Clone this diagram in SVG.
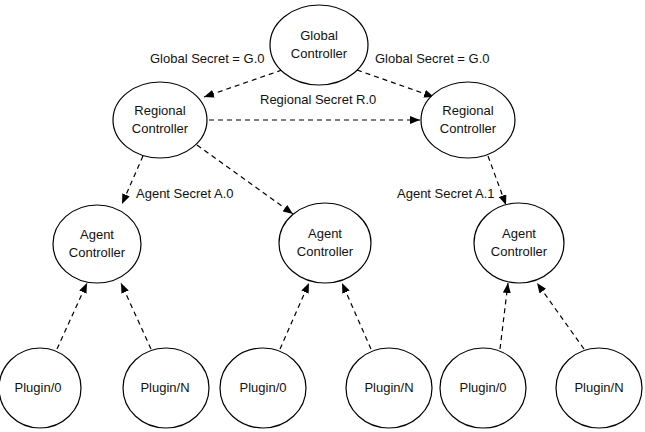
<svg xmlns="http://www.w3.org/2000/svg" width="645" height="432" viewBox="0 0 645 432">
<style>
.n{fill:#fff;stroke:#000;stroke-width:1.2}
.t{font-family:"Liberation Sans",Arial,Helvetica,sans-serif;font-size:13px;fill:#111;text-anchor:middle}
.l{font-family:"Liberation Sans",Arial,Helvetica,sans-serif;font-size:13px;fill:#111}
.c{fill:none;stroke:#000;stroke-width:1.2;stroke-dasharray:5 4;marker-end:url(#ah)}
</style>
<defs>
<marker id="ah" viewBox="0 0 10 8" refX="10" refY="4" markerWidth="10" markerHeight="8" markerUnits="userSpaceOnUse" orient="auto">
<path d="M0,0 L10,4 L0,8 Z" fill="#000"/>
</marker>
</defs>
<rect width="645" height="432" fill="#fff"/>
<g id="connectors">
<line class="c" x1="282" y1="70" x2="204" y2="97"/>
<line class="c" x1="357" y1="70" x2="434" y2="97"/>
<line class="c" x1="209" y1="120" x2="420" y2="120"/>
<line class="c" x1="143" y1="156" x2="122" y2="204"/>
<line class="c" x1="197" y1="145" x2="293" y2="214"/>
<line class="c" x1="488" y1="156" x2="506" y2="205"/>
<line class="c" x1="57" y1="349" x2="87" y2="283"/>
<line class="c" x1="151" y1="349" x2="121" y2="283"/>
<line class="c" x1="280" y1="349" x2="309" y2="283"/>
<line class="c" x1="371" y1="349" x2="342" y2="283"/>
<line class="c" x1="500" y1="349" x2="508" y2="283"/>
<line class="c" x1="584" y1="349" x2="537" y2="283"/>
<text class="l" x="150" y="63">Global Secret = G.0</text>
<text class="l" x="375" y="63">Global Secret = G.0</text>
<text class="l" x="260" y="104">Regional Secret R.0</text>
<text class="l" x="136" y="198">Agent Secret A.0</text>
<text class="l" x="397" y="198">Agent Secret A.1</text>
</g>
<g id="global">
<ellipse class="n" cx="319" cy="45" rx="49" ry="40"/>
<text class="t" x="319" y="40">Global</text>
<text class="t" x="319" y="58">Controller</text>
</g>
<g id="regional-left">
<ellipse class="n" cx="160" cy="120" rx="47" ry="38"/>
<text class="t" x="160" y="115">Regional</text>
<text class="t" x="160" y="133">Controller</text>
</g>
<g id="regional-right">
<ellipse class="n" cx="468" cy="120" rx="47" ry="38"/>
<text class="t" x="468" y="115">Regional</text>
<text class="t" x="468" y="133">Controller</text>
</g>
<g id="agent-1">
<ellipse class="n" cx="97" cy="244" rx="44" ry="39"/>
<text class="t" x="97" y="239">Agent</text>
<text class="t" x="97" y="257">Controller</text>
</g>
<g id="agent-2">
<ellipse class="n" cx="325" cy="243" rx="46" ry="40"/>
<text class="t" x="325" y="238">Agent</text>
<text class="t" x="325" y="256">Controller</text>
</g>
<g id="agent-3">
<ellipse class="n" cx="519" cy="243" rx="45" ry="40"/>
<text class="t" x="519" y="238">Agent</text>
<text class="t" x="519" y="256">Controller</text>
</g>
<g id="plugin-1-0">
<ellipse class="n" cx="40" cy="388" rx="41" ry="40"/>
<text class="t" x="38" y="392">Plugin/0</text>
</g>
<g id="plugin-1-n">
<ellipse class="n" cx="166" cy="388" rx="43" ry="40"/>
<text class="t" x="165" y="392">Plugin/N</text>
</g>
<g id="plugin-2-0">
<ellipse class="n" cx="263" cy="388" rx="43" ry="40"/>
<text class="t" x="263" y="392">Plugin/0</text>
</g>
<g id="plugin-2-n">
<ellipse class="n" cx="389" cy="388" rx="43" ry="40"/>
<text class="t" x="389" y="392">Plugin/N</text>
</g>
<g id="plugin-3-0">
<ellipse class="n" cx="483" cy="388" rx="43" ry="40"/>
<text class="t" x="483" y="392">Plugin/0</text>
</g>
<g id="plugin-3-n">
<ellipse class="n" cx="599" cy="388" rx="43" ry="40"/>
<text class="t" x="599" y="392">Plugin/N</text>
</g>
</svg>
